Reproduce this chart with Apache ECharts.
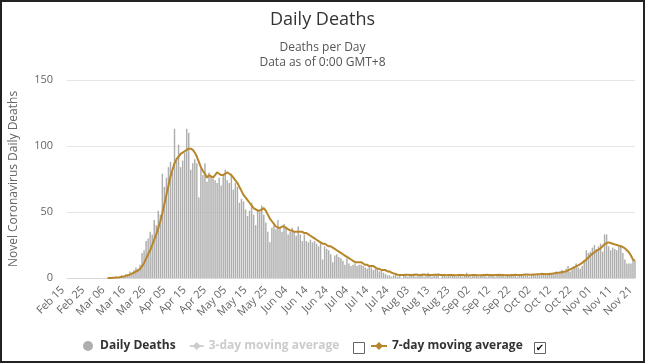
<!DOCTYPE html>
<html><head><meta charset="utf-8">
<script src="https://cdn.jsdelivr.net/npm/echarts@6/dist/echarts.min.js"></script>
<style>html,body{margin:0;padding:0;background:#fff}#c{width:645px;height:363px}</style>
</head><body><div id="c"></div>
<script>
// Categories: one per day from 2020-02-15 to 2020-11-21
var startDate = '2020-02-15';
var dayCount = 281;
var monthNames = ['Jan','Feb','Mar','Apr','May','Jun','Jul','Aug','Sep','Oct','Nov','Dec'];

var dailyDeaths = [
0,0,0,0,0,0,0,0,0,0,
0,0,0,0,0,0,0,0,0,0,
0,0,0,0,1,0,1,2,1,3,
3,5,4,6,8,7,10,19,21,28,
30,35,33,44,40,51,48,79,69,76,
84,88,80,113,89,101,84,89,95,113,
110,82,87,90,87,61,83,78,87,73,
80,77,75,74,72,76,70,78,82,74,
72,79,67,72,69,57,60,58,52,47,
51,57,48,40,52,50,55,48,42,35,
27,38,40,37,44,38,35,41,38,33,
35,38,35,32,39,33,28,33,28,27,
29,27,28,26,24,27,14,24,22,21,
18,12,17,18,16,15,13,10,15,11,
9,10,11,9,10,10,9,8,7,9,
8,6,7,7,5,6,4,3,2,2,
1,2,3,1,2,0,3,2,1,2,
3,2,1,2,2,3,1,2,4,2,
1,3,2,2,0,2,3,1,2,3,
2,2,1,3,2,1,2,4,2,1,
2,3,2,1,2,3,2,1,3,2,
2,1,2,3,2,2,1,3,2,2,
3,2,1,2,3,2,2,3,1,2,
3,2,3,2,4,3,2,3,4,3,
4,5,3,5,6,4,7,9,5,6,
9,11,8,7,9,13,21,19,20,23,
25,22,24,26,20,33,33,24,21,23,
22,21,24,25,19,14,11,11,11,14,
13
];

var avg7 = [
'-','-','-','-','-','-','-','-','-','-',
'-','-','-','-','-','-','-','-','-','-',
0,0,0,0.1,0.3,0.4,0.6,0.9,1.1,1.6,
2,2.6,3.3,4,4.9,5.6,6.9,8.9,11.4,14.7,
18,21,25,29,33,38,43,49,56,63,
70,77,82,87,90,92,94,95,96,97,
98,98,97,95,92,88,84,81,79,76,
78,77,76,78,80,79,78,78,79,80,
79,78,76,74,72,69,66,63,61,59,
57,55,53,52,51,51,52,53,51,48,
45,43,41,39,38,38,39,39,38,37,
36,36,35,35,35,35,35,34,34,33,
32,31,30,29,28,27,26,26,25,24,
24,23,22,21,20,19,18,17,16,15,
14,13,12,12,12,12,11,10,10,9,
9,9,8,7,7,6,6,6,5,5,
4,3.5,3,2.5,2.3,2.2,2.3,2.5,2.4,2.2,
2.3,2.5,2.6,2.4,2.3,2.5,2.6,2.4,2.3,2.2,
2.3,2.4,2.5,2.6,2.3,2.2,2.2,2.1,2.2,2.3,
2.2,2.0,2.1,2.2,2.3,2.2,2.1,2.0,2.0,2.1,
2.2,2.3,2.1,2.0,2.1,2.2,2.3,2.4,2.3,2.2,
2.1,2.2,2.3,2.4,2.3,2.2,2.1,2.0,2.1,2.2,
2.3,2.4,2.3,2.2,2.3,2.5,2.6,2.6,2.5,2.5,
2.6,2.7,2.8,2.9,3.0,3.0,2.9,3.0,3.1,3.3,
3.5,3.7,3.9,4.1,4.4,4.7,5.0,5.8,6.5,7.2,
8,8.8,9.6,10.5,11.5,12.8,14,15.5,17,18.3,
19.5,20.5,21.5,22.5,24,25.5,26.5,27,26.5,26,
25.5,25,24.5,24,23.5,22.5,21,19.5,17,14,
13
];

var avg3 = []; // hidden series (deselected in legend)

var yTicks = [0, 50, 100, 150];

function pad(n){return n<10?'0'+n:''+n;}
var categories = [];
var d0 = new Date(startDate + 'T00:00:00Z');
for (var k = 0; k < dayCount; k++) {
  var d = new Date(d0.getTime() + k*86400000);
  categories.push(monthNames[d.getUTCMonth()] + ' ' + pad(d.getUTCDate()));
}

var FONT = '"Open Sans", "DejaVu Sans", sans-serif';
var chart = echarts.init(document.getElementById('c'));
chart.setOption({
  animation: false,
  textStyle: {fontFamily: FONT},
  title: [
    {text: 'Daily Deaths', left: 'center', top: 6,
     textStyle: {fontSize: 18, fontWeight: 'normal', color: '#333', fontFamily: FONT}},
    {text: 'Deaths per Day\nData as of 0:00 GMT+8', left: 'center', top: 35,
     textStyle: {fontSize: 12, fontWeight: 'normal', color: '#555', lineHeight: 15, fontFamily: FONT, align: 'center'}}
  ],
  grid: {left: 59, right: 10, top: 80, bottom: 85},
  xAxis: {
    type: 'category', data: categories, boundaryGap: false,
    axisLine: {lineStyle: {color: '#d8d8d8'}},
    axisTick: {show: false},
    axisLabel: {interval: 9, rotate: 45, fontSize: 11, color: '#666', margin: 6,
                padding: [0, 6, 29, 0], fontFamily: FONT},
    splitLine: {show: false}
  },
  yAxis: {
    type: 'value', min: yTicks[0], max: yTicks[yTicks.length-1], interval: 50,
    name: 'Novel Coronavirus Daily Deaths', nameLocation: 'middle', nameGap: 47,
    nameTextStyle: {fontSize: 12, color: '#666', fontFamily: FONT},
    axisLine: {show: false}, axisTick: {show: false},
    axisLabel: {fontSize: 11, color: '#666', margin: 14, fontFamily: FONT},
    splitLine: {lineStyle: {color: '#e6e6e6'}}
  },
  legend: [
    {left: 78, top: 335, itemWidth: 14, itemHeight: 10, itemGap: 13,
     textStyle: {fontSize: 12, fontWeight: 'bold', color: '#333', fontFamily: FONT},
     inactiveColor: '#cccccc',
     data: [{name: 'Daily Deaths', icon: 'circle'}, {name: '3-day moving average'}],
     selected: {'3-day moving average': false}},
    {left: 365, top: 335, itemWidth: 16, itemHeight: 10,
     textStyle: {fontSize: 12, fontWeight: 'bold', color: '#333', fontFamily: FONT},
     data: [{name: '7-day moving average'}]}
  ],
  series: [
    {name: 'Daily Deaths', type: 'bar', data: dailyDeaths, barWidth: '72%',
     itemStyle: {color: '#aeaeae'}},
    {name: '3-day moving average', type: 'line', data: avg3, symbol: 'diamond',
     itemStyle: {color: '#999'}},
    {name: '7-day moving average', type: 'line', data: avg7, symbol: 'diamond', symbolSize: 7,
     showSymbol: false, connectNulls: false,
     itemStyle: {color: '#b8862a'}, lineStyle: {color: '#b8862a', width: 2}}
  ],
  graphic: [
    {type: 'rect', silent: true,
     shape: {x: 1, y: 1, width: 643, height: 361},
     style: {fill: 'none', stroke: '#222', lineWidth: 2}},
    {type: 'rect', shape: {x: 353.5, y: 342.5, width: 11, height: 11},
     style: {fill: '#fff', stroke: '#666', lineWidth: 1}},
    {type: 'rect', shape: {x: 534.5, y: 342.5, width: 11, height: 11},
     style: {fill: '#fff', stroke: '#666', lineWidth: 1}},
    {type: 'text', x: 540, y: 348.5,
     style: {text: '\u2714', textAlign: 'center', textVerticalAlign: 'middle',
             font: '10px "DejaVu Sans"', fill: '#111'}}
  ]
});
</script></body></html>
